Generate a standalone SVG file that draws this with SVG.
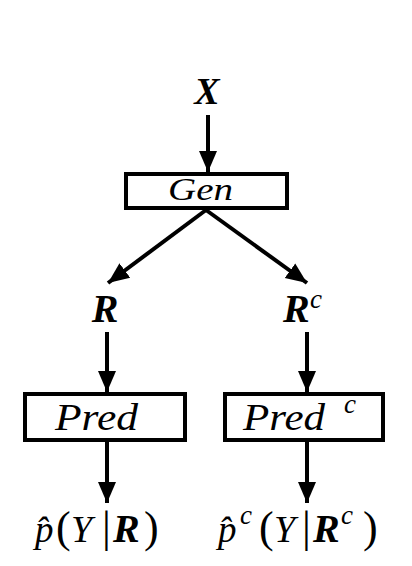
<svg xmlns="http://www.w3.org/2000/svg" width="412" height="566" viewBox="0 0 412 566">
<style>
.box{fill:#fff;stroke:#000;stroke-width:4}
.conn{stroke:#000;stroke-width:4;fill:none;marker-end:url(#ah)}
.t{font-family:"Liberation Serif","DejaVu Serif",serif;font-style:italic;fill:#000}
.b{font-weight:bold}
.u{font-style:normal}
</style>
<defs>
<marker id="ah" markerUnits="userSpaceOnUse" markerWidth="22" markerHeight="20" viewBox="0 0 22 20" refX="21" refY="10" orient="auto">
<path d="M0,1 L21,10 L0,19 Z" fill="#000"/>
</marker>
</defs>
<rect width="412" height="566" fill="#fff"/>
<g id="connectors">
<line class="conn" x1="208" y1="115" x2="208" y2="172"/>
<line class="conn" x1="206" y1="210" x2="108" y2="283"/>
<line class="conn" x1="206" y1="210" x2="307" y2="283"/>
<line class="conn" x1="107" y1="332" x2="107" y2="392"/>
<line class="conn" x1="307" y1="332" x2="307" y2="392"/>
<line class="conn" x1="107" y1="442" x2="107" y2="503"/>
<line class="conn" x1="307" y1="442" x2="307" y2="503"/>
</g>
<g id="X"><text class="t b" x="207" y="104" font-size="38" text-anchor="middle">X</text></g>
<g id="Gen">
<rect class="box" x="126" y="174" width="161" height="34"/>
<text class="t" x="168" y="200" font-size="32" textLength="65" lengthAdjust="spacingAndGlyphs">Gen</text>
</g>
<g id="R"><text class="t b" x="105" y="322" font-size="40" text-anchor="middle">R</text></g>
<g id="Rc"><text class="t b" x="283" y="322" font-size="40">R</text><text class="t" x="310" y="308" font-size="27">c</text></g>
<g id="Pred">
<rect class="box" x="25" y="394" width="160" height="46"/>
<text class="t" x="55" y="430" font-size="38" textLength="83" lengthAdjust="spacingAndGlyphs">Pred</text>
</g>
<g id="Predc">
<rect class="box" x="225" y="394" width="158" height="46"/>
<text class="t" x="243" y="430" font-size="38" textLength="82" lengthAdjust="spacingAndGlyphs">Pred</text>
<text class="t" x="344" y="413" font-size="27">c</text>
</g>
<g id="pR">
<text class="t" y="542"><tspan x="35" font-size="37">p̂</tspan><tspan class="u" x="56" font-size="44">(</tspan><tspan x="71" font-size="38">Y</tspan><tspan class="u" x="102" font-size="44">|</tspan><tspan class="b" x="113" font-size="40">R</tspan><tspan class="u" x="144" font-size="44">)</tspan></text>
</g>
<g id="pRc">
<text class="t" y="542"><tspan x="218" font-size="37">p̂</tspan><tspan x="240" y="524" font-size="27">c</tspan><tspan class="u" x="259" y="542" font-size="44">(</tspan><tspan x="274" font-size="38">Y</tspan><tspan class="u" x="302" font-size="44">|</tspan><tspan class="b" x="313" font-size="40">R</tspan><tspan x="341" y="524" font-size="27">c</tspan><tspan class="u" x="363" y="542" font-size="44">)</tspan></text>
</g>
</svg>
